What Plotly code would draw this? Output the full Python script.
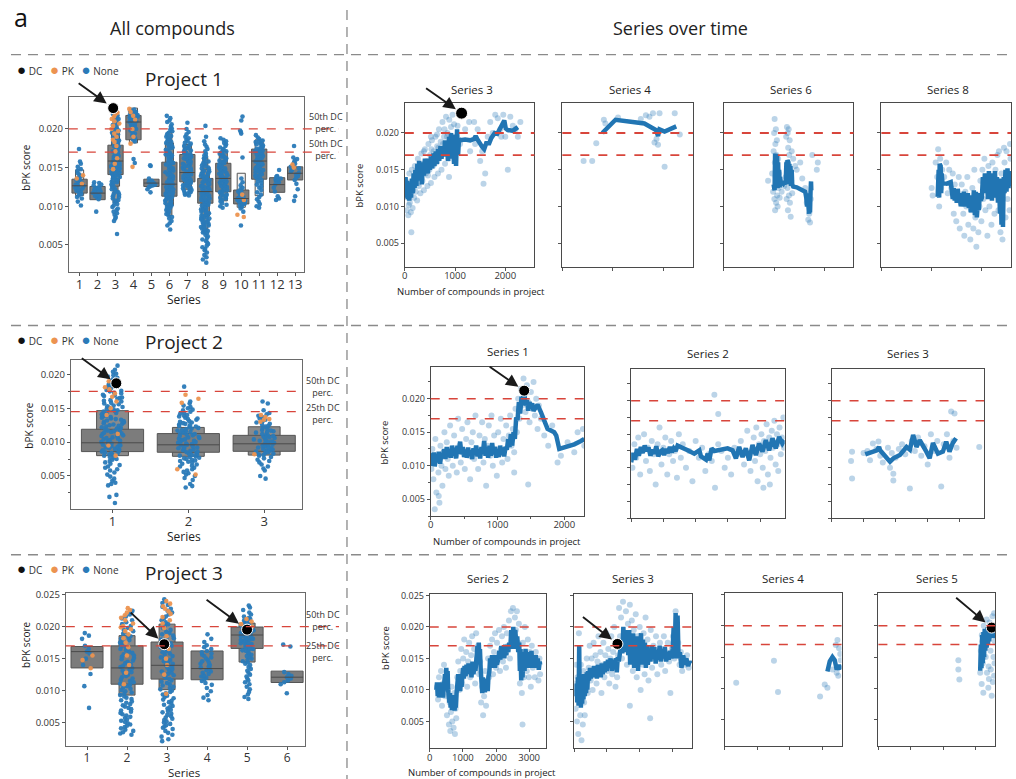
import plotly.graph_objects as go

W, H = 1016, 779
U = 1e-4  # bPK scores in the tables below are written in units of 1e-4

BLUE = "#2a7ab8"
LINE_BLUE = "#2175b3"
ORANGE = "#ec9350"
RED = "#d8453b"
FONT = "Open Sans"

# ---------------- Project 1 : all compounds ----------------
P1_SERIES = list(range(1, 14))
P1_LEVELS = {  # letter-value boxes (low, high), innermost level first
    1: [(117, 135), (114, 147)],
    2: [(108.5, 125.6)],
    3: [(141, 179), (126, 197), (105, 221)],
    4: [(186, 217.5), (182, 227)],
    5: [(125.6, 135)],
    6: [(113, 157), (101, 182), (88, 196)],
    7: [(131.6, 167), (122, 180)],
    8: [(104, 136), (87, 148), (67, 163)],
    9: [(118.8, 155.6), (107, 171)],
    10: [(103, 121), (98.7, 142.7)],
    11: [(135, 174), (113.7, 186)],
    12: [(118, 137)],
    13: [(134, 151)],
}
P1_MEDIAN = {1: 126.5, 2: 117, 3: 158.5, 4: 209, 5: 130, 6: 128.6, 7: 143.6,
             8: 119, 9: 136, 10: 110, 11: 158.5, 12: 128, 13: 142.7}
P1_HOLLOW = [1, 4, 10, 11]
P1_NONE = {
    1: [174, 158, 155, 151, 148, 146, 143, 141, 139, 137, 135, 134, 133, 132, 131, 130, 129, 128, 127,
        126, 125, 124, 123, 122, 121, 120, 119, 118, 117, 116, 114, 112, 110, 106, 101],
    2: [131, 130, 128, 127, 125, 124, 123, 122, 121, 120, 119, 118, 117, 116, 115, 114, 113, 112, 111, 109, 93],
    3: [222, 219, 217, 215, 213, 212, 210, 208, 207, 205, 203, 201, 199, 198, 196, 195, 193, 192, 190, 189,
        188, 186, 185, 183, 182, 181, 179, 178, 177, 176, 174, 173, 172, 171, 170, 168, 167, 166, 165, 164,
        163, 161, 160, 159, 158, 157, 156, 155, 154, 153, 152, 151, 150, 149, 148, 147, 146, 145, 144, 143,
        142, 141, 140, 139, 138, 137, 136, 135, 134, 133, 132, 131, 130, 128, 127, 126, 125, 123, 122, 121,
        119, 118, 116, 115, 113, 112, 110, 108, 107, 105, 103, 101, 99, 97, 95, 93, 91, 89, 86, 84, 81, 64],
    4: [225, 224, 223, 222, 221, 220, 219, 218, 217, 216, 215, 214, 213, 212, 211, 210, 209, 208, 207, 206,
        205, 204, 202, 200, 198, 196, 194, 192, 190, 188, 186, 184, 161, 156],
    5: [153, 152, 136, 133, 131, 130, 129, 128, 127, 126, 125, 122, 118],
    6: [217, 214, 211, 209, 206, 203, 201, 199, 197, 195, 193, 191, 190, 188, 186, 185, 183, 182, 180, 179,
        177, 176, 175, 173, 172, 171, 169, 168, 167, 166, 164, 163, 162, 161, 159, 158, 157, 156, 155, 154,
        152, 151, 150, 149, 148, 147, 146, 145, 144, 143, 141, 140, 139, 138, 137, 136, 135, 134, 133, 132,
        131, 130, 129, 128, 127, 126, 125, 124, 123, 122, 121, 120, 119, 118, 117, 116, 115, 114, 113, 112,
        111, 110, 109, 108, 107, 106, 105, 104, 103, 102, 101, 99, 98, 96, 95, 93, 91, 90, 88, 86, 84, 81,
        78, 75, 70],
    7: [208, 200, 196, 193, 190, 188, 186, 184, 182, 181, 179, 178, 176, 175, 174, 172, 171, 170, 169, 168,
        167, 166, 165, 164, 163, 162, 161, 160, 159, 158, 157, 156, 155, 154, 153, 152, 151, 150, 149, 148,
        147, 146, 145, 144, 143, 142, 141, 140, 139, 138, 137, 136, 135, 134, 133, 132, 131, 130, 129, 128,
        127, 126, 125, 124, 123, 122, 121, 120, 119, 118, 117, 116, 115, 114],
    8: [204, 190, 184, 180, 177, 174, 171, 168, 166, 164, 162, 160, 158, 156, 155, 153, 152, 150, 149, 148,
        146, 145, 144, 143, 142, 141, 140, 139, 138, 137, 136, 135, 134, 133, 132, 131, 130, 129, 128, 127,
        126, 125, 124, 123, 122, 121, 120, 119, 118, 117, 116, 115, 114, 113, 112, 111, 110, 109, 108, 107,
        106, 105, 104, 103, 102, 101, 100, 99, 98, 97, 96, 95, 94, 93, 92, 91, 90, 89, 88, 87, 86, 85, 84,
        83, 82, 81, 80, 79, 78, 77, 76, 75, 74, 73, 72, 71, 70, 69, 68, 67, 66, 65, 63, 61, 59, 57, 55, 53,
        51, 49, 47, 45, 43, 40, 37, 34, 31, 27],
    9: [188, 186, 184, 182, 180, 178, 176, 174, 173, 171, 170, 168, 167, 166, 164, 163, 162, 160, 159, 158,
        157, 156, 154, 153, 152, 151, 150, 149, 148, 147, 146, 145, 144, 143, 142, 141, 140, 139, 138, 137,
        136, 135, 134, 133, 132, 131, 130, 129, 128, 127, 126, 125, 124, 123, 121, 120, 119, 118, 116, 115,
        114, 112, 111, 110, 108, 106, 104, 102, 100, 98],
    10: [216, 211, 198, 196, 194, 163, 136, 131, 127, 124, 122, 120, 119, 118, 117, 116, 115, 114, 113, 112,
         111, 110, 109, 108, 107, 106, 105, 104, 103, 102, 101, 99, 97, 93, 75],
    11: [192, 189, 187, 185, 184, 183, 182, 181, 180, 179, 178, 177, 176, 175, 174, 173, 172, 171, 170, 169,
         168, 167, 166, 165, 164, 163, 162, 161, 160, 159, 158, 157, 156, 155, 154, 153, 152, 151, 150, 149,
         148, 147, 146, 145, 144, 143, 142, 141, 140, 139, 138, 137, 136, 134, 132, 130, 128, 126, 124, 121,
         118, 115, 112, 109, 106, 103, 100, 98],
    12: [147, 139, 138, 137, 136, 135, 134, 133, 131, 128, 124, 119, 113, 110, 108],
    13: [178, 163, 161, 159, 157, 155, 153, 151, 149, 147, 145, 143, 141, 139, 137, 134, 129, 122, 113, 107],
}
P1_PK = {
    1: [140, 136, 129],
    3: [224, 221, 219, 216, 213, 210, 207, 204, 200, 197, 194, 190, 186, 183, 178, 171, 162, 155, 148],
    4: [226, 222, 217, 212, 200, 190, 181, 151],
    10: [115, 108, 89, 86],
    13: [154, 150],
}
P1_DC = (2.87, 227)
P1_THRESH = [200, 170]
P1_THRESH_TEXT = ["50th DC<br>perc.", "50th DC<br>perc."]

# Project 1 : series over time (compound index, bPK score)
P1_S3_POINTS = [(20, 135), (40, 95), (55, 125), (70, 88), (90, 145), (100, 105), (115, 118), (130, 65),
                (140, 150), (155, 98), (170, 132), (185, 112), (200, 155), (215, 120), (230, 140), (245, 108),
                (260, 165), (280, 128), (295, 150), (310, 118), (330, 172), (350, 135), (365, 158), (380, 122),
                (400, 178), (420, 145), (435, 162), (450, 128), (470, 185), (490, 150), (505, 170), (520, 132),
                (540, 190), (560, 155), (575, 175), (590, 140), (610, 195), (630, 160), (645, 182), (660, 145),
                (680, 205), (700, 168), (715, 188), (730, 150), (750, 215), (765, 175), (780, 195), (800, 158),
                (820, 222), (835, 180), (850, 200), (870, 165), (885, 218), (900, 185), (920, 208), (935, 170),
                (950, 225), (965, 190), (980, 212), (995, 172), (60, 112), (120, 92), (250, 150), (380, 175),
                (520, 195), (640, 198), (760, 185), (880, 140), (1050, 210), (1100, 185), (1150, 225),
                (1200, 205), (1280, 215), (1300, 175), (1380, 215), (1400, 185), (1450, 205), (1500, 162),
                (1540, 175), (1567, 131), (1600, 145), (1650, 195), (1700, 215), (1750, 200), (1800, 225),
                (1850, 220), (1900, 205), (1920, 195), (1960, 225), (2000, 195), (2050, 150), (2100, 222),
                (2150, 210), (2200, 205), (2250, 195), (2300, 215), (30, 118), (80, 102), (160, 122),
                (190, 140), (270, 132), (320, 148), (410, 160), (460, 142), (530, 178), (600, 165),
                (670, 180), (720, 172), (790, 205), (840, 195), (910, 192), (960, 180)]
P1_S3_LINE = [(0, 125), (15, 140), (30, 112), (45, 135), (60, 110), (75, 128), (90, 108), (110, 132),
              (125, 112), (140, 138), (160, 118), (175, 145), (195, 125), (210, 150), (230, 128), (250, 158),
              (265, 135), (285, 162), (300, 140), (320, 155), (340, 130), (360, 160), (380, 142), (400, 165),
              (420, 148), (440, 158), (460, 145), (480, 165), (500, 150), (520, 168), (545, 152), (570, 172),
              (590, 155), (615, 175), (640, 158), (660, 178), (685, 162), (710, 182), (730, 165), (755, 180),
              (780, 168), (800, 190), (820, 170), (840, 185), (860, 162), (880, 195), (900, 175), (920, 200),
              (940, 165), (960, 188), (980, 158), (1000, 198), (1020, 155), (1040, 205), (1060, 170),
              (1080, 192), (1100, 190), (1200, 191), (1300, 190), (1380, 192), (1410, 196), (1440, 192),
              (1470, 188), (1540, 181), (1580, 178), (1620, 186), (1680, 186), (1720, 193), (1790, 200),
              (1840, 199), (1880, 204), (1950, 212), (1980, 217), (2010, 206), (2050, 204), (2150, 203),
              (2250, 208)]
P1_S3_DC = (1130, 227)
P1_S4_POINTS = [(420, 162), (590, 162), (670, 186), (820, 218), (850, 213), (1650, 224), (1720, 222),
                (1790, 227), (1920, 227), (2220, 227), (1820, 187), (1890, 184), (2020, 154), (2320, 198),
                (1100, 221), (1550, 219), (1860, 192)]
P1_S4_LINE = [(790, 200), (1050, 218), (1620, 213), (1850, 204), (1890, 196), (1920, 205), (2020, 202),
              (2250, 209)]
P1_S6_POINTS = [(880, 135), (960, 145), (980, 120), (990, 175), (1000, 200), (1005, 110), (1010, 219),
                (1015, 160), (1020, 95), (1025, 185), (1030, 140), (1035, 205), (1040, 105), (1045, 170),
                (1050, 130), (1055, 190), (1060, 115), (1065, 150), (1070, 100), (1080, 165), (1090, 125),
                (1100, 145), (1110, 112), (1120, 135), (1150, 120), (1200, 128), (1230, 140), (1240, 195),
                (1250, 110), (1255, 208), (1260, 160), (1265, 125), (1270, 200), (1275, 95), (1280, 180),
                (1285, 140), (1290, 205), (1295, 115), (1300, 170), (1310, 190), (1315, 105), (1320, 150),
                (1330, 86), (1340, 135), (1350, 175), (1360, 118), (1380, 165), (1420, 155), (1450, 150),
                (1520, 160), (1560, 138), (1620, 125), (1650, 105), (1680, 82), (1700, 90), (1715, 78),
                (1730, 110), (1760, 170), (1850, 150), (1870, 160)]
P1_S6_LINE = [(990, 130), (1000, 165), (1010, 122), (1020, 172), (1030, 125), (1040, 170), (1050, 128),
              (1060, 168), (1070, 125), (1080, 160), (1090, 128), (1100, 150), (1110, 126), (1120, 140),
              (1130, 132), (1150, 133), (1180, 131), (1200, 134), (1230, 130), (1245, 160), (1255, 132),
              (1265, 163), (1275, 135), (1285, 160), (1295, 133), (1305, 158), (1315, 130), (1325, 155),
              (1335, 128), (1350, 150), (1360, 130), (1380, 127), (1450, 126), (1520, 124), (1580, 121),
              (1620, 120), (1640, 112), (1655, 100), (1665, 118), (1675, 95), (1685, 115), (1695, 90),
              (1705, 113), (1715, 92), (1725, 120), (1735, 134), (1740, 122)]
P1_S8_POINTS = [(1000, 125), (1020, 115), (1080, 160), (1110, 140), (1130, 178), (1150, 100), (1170, 165),
                (1190, 125), (1210, 150), (1250, 140), (1290, 160), (1320, 118), (1350, 150), (1390, 125),
                (1420, 145), (1440, 90), (1460, 130), (1490, 80), (1510, 115), (1540, 140), (1560, 70),
                (1580, 105), (1600, 130), (1630, 90), (1650, 60), (1670, 120), (1690, 100), (1710, 140),
                (1730, 75), (1750, 110), (1770, 55), (1790, 95), (1810, 125), (1830, 70), (1850, 150),
                (1870, 85), (1890, 45), (1910, 115), (1930, 65), (1950, 100), (1970, 135), (1990, 80),
                (2010, 150), (2030, 110), (2050, 165), (2070, 95), (2090, 130), (2110, 60), (2130, 155),
                (2150, 100), (2170, 140), (2190, 75), (2210, 160), (2230, 120), (2250, 90), (2270, 150),
                (2290, 115), (2310, 170), (2330, 95), (2350, 130), (2370, 65), (2390, 145), (2410, 55),
                (2430, 120), (2450, 160), (2470, 85), (2490, 175), (2510, 110), (2530, 140), (2550, 95),
                (2570, 165), (2560, 185), (2440, 180), (2340, 175)]
P1_S8_LINE = [(1120, 113), (1140, 150), (1150, 112), (1160, 158), (1170, 115), (1180, 155), (1190, 118),
              (1200, 145), (1215, 132), (1300, 131), (1380, 133), (1400, 122), (1420, 110), (1440, 125),
              (1460, 108), (1480, 120), (1500, 105), (1520, 124), (1540, 110), (1560, 118), (1580, 100),
              (1600, 115), (1620, 103), (1640, 120), (1660, 100), (1680, 112), (1700, 105), (1720, 118),
              (1740, 98), (1760, 110), (1780, 92), (1800, 115), (1820, 95), (1840, 122), (1860, 88),
              (1880, 120), (1900, 85), (1920, 105), (1940, 95), (1960, 118), (1980, 108), (2000, 112),
              (2020, 140), (2040, 118), (2060, 145), (2080, 125), (2100, 140), (2120, 110), (2140, 148),
              (2160, 120), (2180, 145), (2200, 108), (2220, 142), (2240, 115), (2260, 148), (2280, 112),
              (2300, 140), (2320, 105), (2340, 138), (2360, 90), (2375, 138), (2390, 75), (2405, 130),
              (2420, 72), (2435, 140), (2450, 118), (2470, 150), (2490, 120), (2510, 152), (2530, 125),
              (2550, 148), (2570, 128), (2580, 140)]

# ---------------- Project 2 ----------------
P2_SERIES = [1, 2, 3]
P2_LEVELS = {1: [(86, 119), (80, 146.5)], 2: [(85, 112.6), (79, 121.7)], 3: [(86.4, 110), (80.8, 122.7)]}
P2_MEDIAN = {1: 99, 2: 96, 3: 97.5}
P2_NONE = {
    1: [213, 207, 204, 201, 199, 197, 195, 193, 191, 190, 188, 186, 185, 183, 182, 180, 179, 177, 176, 175,
        173, 172, 170, 169, 168, 166, 165, 164, 162, 161, 160, 158, 157, 156, 154, 153, 152, 151, 149, 148,
        147, 146, 145, 143, 142, 141, 140, 139, 138, 137, 136, 135, 134, 133, 132, 131, 130, 129, 128, 127,
        126, 125, 124, 123, 122, 121, 120, 119, 118, 117, 116, 115, 114, 113, 112, 111, 110, 109, 108, 107,
        106, 105, 104, 103, 102, 101, 100, 99, 98, 97, 96, 95, 94, 93, 92, 91, 90, 89, 88, 87, 86, 85, 84,
        83, 82, 81, 80, 78, 77, 75, 74, 72, 70, 68, 66, 64, 62, 60, 58, 55, 52, 49, 46, 43, 40, 38, 36, 22,
        19, 10],
    2: [182, 160, 157, 154, 152, 150, 148, 147, 145, 143, 142, 140, 139, 138, 136, 135, 134, 133, 131, 130,
        129, 128, 127, 126, 125, 124, 123, 122, 121, 120, 119, 118, 117, 116, 115, 114, 113, 112, 111, 110,
        109, 108, 107, 106, 105, 104, 103, 102, 101, 100, 99, 98, 97, 96, 95, 94, 93, 92, 91, 90, 89, 88, 87,
        86, 85, 84, 83, 82, 81, 80, 79, 78, 77, 76, 75, 74, 73, 72, 71, 70, 68, 67, 65, 64, 62, 60, 58, 56,
        54, 52, 50, 47, 44, 38, 35, 33],
    3: [160, 157, 147, 143, 141, 139, 137, 135, 133, 131, 129, 127, 126, 124, 123, 121, 120, 118, 117, 116,
        115, 114, 112, 111, 110, 109, 108, 107, 106, 105, 104, 103, 102, 101, 100, 99, 98, 97, 96, 95, 94,
        93, 92, 91, 90, 89, 88, 87, 86, 85, 84, 83, 82, 81, 80, 78, 76, 74, 72, 70, 67, 64, 61, 58, 50, 46],
}
P2_PK = {1: [190, 185, 181, 178, 172, 167, 160, 150, 140, 112, 95, 80],
         2: [170, 164, 158, 60, 52],
         3: [140, 137, 134, 133, 130, 82]}
P2_DC = (1.05, 187)
P2_THRESH = [175, 145]
P2_THRESH_TEXT = ["50th DC<br>perc.", "25th DC<br>perc."]

P2_S1_POINTS = [(10, 95), (25, 125), (40, 80), (55, 110), (70, 140), (85, 60), (100, 115), (115, 90),
                (130, 45), (145, 130), (160, 100), (175, 70), (190, 120), (205, 150), (220, 95), (240, 135),
                (255, 110), (270, 85), (290, 160), (310, 125), (330, 100), (350, 145), (370, 115), (390, 90),
                (410, 170), (430, 130), (450, 105), (470, 155), (490, 120), (510, 95), (530, 140), (550, 165),
                (570, 115), (590, 80), (610, 135), (630, 150), (650, 110), (670, 175), (690, 125), (710, 95),
                (730, 145), (750, 120), (770, 165), (790, 105), (810, 140), (830, 70), (850, 130), (870, 160),
                (890, 115), (910, 175), (930, 100), (950, 145), (970, 125), (990, 85), (1010, 150),
                (1030, 120), (1050, 170), (1070, 105), (1090, 140), (1110, 125), (1130, 160), (1150, 110),
                (1170, 145), (1190, 175), (1210, 130), (1230, 155), (1250, 120), (1270, 185), (1290, 150),
                (1310, 200), (1330, 170), (1350, 215), (1370, 190), (1390, 230), (1400, 205), (1420, 180),
                (1440, 220), (1460, 195), (1480, 165), (1500, 210), (1520, 185), (1540, 225), (1560, 175),
                (1580, 200), (1600, 155), (1620, 190), (1460, 72), (1650, 170), (1700, 145), (1760, 130),
                (1820, 160), (1900, 105), (1950, 115), (2050, 135), (2150, 120), (2200, 150), (2280, 155),
                (2300, 130), (60, 35), (120, 55), (1250, 90)]
P2_S1_LINE = [(0, 108), (15, 118), (30, 100), (45, 120), (60, 99), (80, 116), (100, 105), (120, 121),
              (140, 103), (160, 118), (180, 112), (200, 125), (220, 110), (240, 128), (260, 113), (280, 125),
              (300, 112), (320, 130), (340, 115), (360, 127), (380, 111), (400, 130), (420, 118), (440, 136),
              (460, 117), (480, 128), (500, 113), (520, 124), (540, 112), (560, 127), (580, 115), (600, 123),
              (620, 110), (640, 126), (660, 116), (680, 130), (700, 114), (720, 125), (740, 111), (760, 128),
              (780, 118), (800, 137), (820, 115), (840, 126), (860, 112), (880, 130), (900, 115), (920, 134),
              (940, 117), (960, 128), (980, 112), (1000, 125), (1020, 113), (1040, 130), (1060, 116),
              (1080, 127), (1100, 114), (1120, 128), (1140, 124), (1160, 140), (1180, 128), (1200, 147),
              (1220, 130), (1240, 150), (1260, 140), (1280, 172), (1300, 168), (1320, 195), (1340, 178),
              (1360, 203), (1380, 200), (1400, 211), (1420, 190), (1440, 198), (1460, 182), (1480, 195),
              (1500, 188), (1520, 193), (1540, 182), (1560, 186), (1600, 191), (1650, 180), (1700, 165),
              (1750, 155), (1850, 150), (1880, 145), (1925, 125), (2050, 128), (2150, 132), (2250, 137),
              (2300, 140)]
P2_S1_DC = (1400, 212)
P2_S2_POINTS = [(20, 100), (50, 135), (80, 115), (110, 145), (140, 90), (170, 125), (200, 150), (230, 110),
                (260, 130), (290, 95), (320, 140), (350, 120), (380, 75), (410, 135), (440, 160), (470, 105),
                (500, 130), (530, 145), (560, 90), (590, 120), (620, 140), (650, 110), (680, 125), (710, 85),
                (740, 150), (770, 115), (800, 135), (850, 100), (900, 125), (950, 80), (1000, 140),
                (1050, 115), (1100, 130), (1150, 95), (1200, 120), (1250, 110), (1300, 70), (1350, 135),
                (1400, 125), (1450, 100), (1500, 115), (1550, 90), (1600, 130), (1650, 120), (1700, 140),
                (1750, 105), (1800, 155), (1850, 95), (1900, 145), (1920, 110), (1940, 160), (1960, 80),
                (1980, 135), (2000, 120), (2020, 150), (2040, 100), (2060, 140), (2080, 125), (2100, 165),
                (2120, 90), (2140, 145), (2160, 115), (2180, 155), (2200, 130), (2220, 170), (2240, 105),
                (2260, 150), (2280, 135), (2300, 160), (2320, 120), (2340, 145), (2360, 175), (2370, 130),
                (1350, 180), (2050, 70), (2150, 75), (2280, 95), (1290, 209)]
P2_S2_LINE = [(0, 108), (30, 122), (60, 112), (90, 128), (120, 118), (150, 131), (180, 122), (210, 133),
              (240, 125), (270, 130), (300, 118), (330, 127), (360, 121), (390, 132), (420, 117), (450, 124),
              (480, 126), (510, 119), (540, 128), (570, 122), (600, 131), (630, 123), (660, 129), (690, 125),
              (720, 133), (773, 131), (876, 126), (979, 121), (1057, 126), (1082, 117), (1160, 112),
              (1186, 121), (1211, 111), (1247, 129), (1289, 125), (1495, 129), (1572, 126), (1624, 114),
              (1675, 131), (1727, 116), (1778, 129), (1830, 111), (1881, 134), (1933, 119), (1985, 136),
              (2036, 124), (2088, 141), (2139, 126), (2191, 144), (2242, 129), (2294, 146), (2345, 136),
              (2380, 141)]
P2_S3_POINTS = [(304, 110), (320, 124), (320, 84), (500, 122), (560, 125), (600, 111), (645, 136), (700, 128),
                (732, 139), (760, 118), (800, 108), (880, 130), (912, 100), (940, 122), (964, 91), (964, 81),
                (1000, 115), (1050, 128), (1100, 135), (1150, 120), (1222, 69), (1250, 140), (1300, 125),
                (1350, 145), (1400, 118), (1450, 132), (1500, 105), (1550, 150), (1600, 125), (1650, 140),
                (1711, 72), (1750, 135), (1800, 150), (1840, 115), (1866, 184), (1918, 181), (1900, 140),
                (1950, 130), (2304, 131)]
P2_S3_LINE = [(526, 120), (706, 126), (742, 131), (758, 126), (912, 109), (964, 114), (1067, 119),
              (1170, 131), (1222, 127), (1273, 149), (1325, 131), (1376, 141), (1479, 124), (1531, 114),
              (1582, 137), (1660, 121), (1737, 124), (1789, 139), (1840, 124), (1892, 137), (1943, 144)]

# ---------------- Project 3 ----------------
P3_SERIES = [1, 2, 3, 4, 5, 6]
P3_LEVELS = {1: [(135.5, 169)], 2: [(110, 170), (93, 186)], 3: [(118, 176), (101.5, 204)],
             4: [(117, 162)], 5: [(166, 199.5), (144.7, 205.6)], 6: [(112.7, 130.5)]}
P3_MEDIAN = {1: 161, 2: 135.5, 3: 139.6, 4: 134.5, 5: 187, 6: 121}
P3_NONE = {
    1: [190, 186, 181, 170, 165, 161, 158, 150, 140, 126, 107, 73],
    2: [225, 222, 219, 216, 213, 210, 207, 204, 201, 198, 195, 193, 191, 189, 187, 185, 183, 181, 179, 177,
        175, 173, 171, 169, 167, 165, 163, 161, 159, 157, 155, 153, 151, 149, 147, 145, 143, 141, 139, 137,
        135, 133, 131, 129, 127, 125, 123, 121, 119, 117, 115, 113, 111, 109, 107, 105, 103, 101, 99, 97,
        95, 93, 91, 89, 87, 85, 83, 81, 79, 77, 75, 73, 71, 69, 67, 65, 63, 61, 59, 57, 55, 53, 51, 49, 47,
        45, 43, 41, 39, 37, 35, 33, 31],
    3: [243, 240, 237, 234, 231, 228, 225, 222, 219, 216, 213, 210, 207, 204, 201, 198, 195, 192, 190, 188,
        186, 184, 182, 180, 178, 176, 174, 172, 170, 168, 166, 164, 162, 160, 158, 156, 154, 152, 150, 148,
        146, 144, 142, 140, 138, 136, 134, 132, 130, 128, 126, 124, 122, 120, 118, 116, 114, 112, 110, 108,
        106, 104, 102, 100, 98, 96, 94, 92, 90, 88, 86, 84, 82, 80, 78, 76, 74, 72, 70, 68, 66, 64, 62, 60,
        58, 56, 54, 52, 50, 48, 46, 44, 42, 40, 37, 34, 31, 28, 24, 21],
    4: [188, 181, 176, 171, 168, 165, 162, 160, 158, 156, 154, 152, 150, 148, 146, 144, 142, 140, 138, 136,
        134, 132, 130, 128, 126, 124, 122, 120, 118, 115, 112, 109, 104, 99, 93, 89, 85],
    5: [233, 230, 226, 222, 219, 216, 214, 212, 210, 208, 206, 204, 202, 201, 200, 199, 198, 197, 196, 195,
        194, 193, 192, 191, 190, 189, 188, 187, 186, 185, 184, 183, 182, 181, 180, 179, 178, 177, 176, 175,
        174, 173, 172, 171, 170, 169, 168, 167, 166, 165, 164, 163, 162, 160, 158, 156, 154, 152, 150, 148,
        146, 144, 142, 140, 137, 134, 131, 128, 125, 122, 119, 116, 113, 110, 106, 102, 98, 94, 90, 87],
    6: [172, 169, 129, 126, 123, 121, 119, 116, 113, 110, 96],
}
P3_PK = {1: [155, 148, 135],
         2: [229, 226, 222, 218, 214, 210, 205, 201, 199, 196, 193, 188, 182, 175, 168, 155, 140, 128, 110],
         3: [240, 236, 232, 228, 224, 220, 215, 210, 205, 198, 185, 165, 150, 140, 125, 95],
         5: [212, 208, 204, 200]}
P3_DC = [(2.93, 172.6), (5.0, 195.4)]
P3_THRESH = [200, 170]
P3_THRESH_TEXT = ["50th DC<br>perc.", "25th DC<br>perc."]

P3_S2_POINTS = [(220, 105), (250, 85), (280, 120), (310, 95), (340, 130), (370, 75), (400, 110), (430, 140),
                (460, 90), (490, 115), (520, 60), (550, 100), (580, 45), (600, 80), (620, 35), (640, 65),
                (660, 105), (680, 50), (700, 75), (720, 40), (740, 95), (760, 30), (780, 70), (800, 55),
                (830, 120), (860, 145), (890, 100), (920, 130), (950, 165), (980, 110), (1010, 150),
                (1040, 180), (1070, 125), (1100, 160), (1130, 105), (1160, 145), (1190, 175), (1220, 120),
                (1250, 155), (1280, 185), (1310, 130), (1340, 165), (1370, 110), (1400, 190), (1430, 150),
                (1460, 170), (1490, 125), (1520, 145), (1550, 80), (1580, 105), (1610, 60), (1640, 90),
                (1670, 130), (1700, 75), (1730, 110), (1760, 150), (1790, 120), (1820, 170), (1850, 140),
                (1880, 180), (1910, 125), (1940, 160), (1970, 190), (2000, 135), (2030, 175), (2060, 150),
                (2090, 195), (2120, 130), (2150, 165), (2180, 185), (2210, 145), (2240, 200), (2270, 160),
                (2300, 135), (2330, 190), (2360, 170), (2390, 210), (2420, 150), (2450, 225), (2480, 185),
                (2510, 230), (2540, 170), (2570, 215), (2600, 195), (2630, 225), (2660, 175), (2690, 205),
                (2720, 110), (2750, 140), (2780, 95), (2810, 175), (2840, 120), (2870, 200), (2900, 150),
                (2930, 130), (2960, 180), (2990, 120), (3020, 160), (3050, 105), (3080, 170), (3110, 135),
                (3140, 150), (3170, 120), (3200, 160), (3240, 140), (3280, 115), (3310, 150), (3330, 125),
                (2800, 45)]
P3_S2_LINE = [(200, 100), (220, 112), (240, 90), (260, 110), (280, 88), (300, 105), (320, 92), (340, 112),
              (360, 95), (380, 108), (400, 88), (420, 110), (440, 96), (460, 125), (480, 108), (500, 135),
              (520, 112), (540, 130), (555, 100), (570, 90), (590, 80), (610, 95), (630, 72), (650, 90),
              (670, 68), (690, 88), (710, 70), (730, 92), (750, 67), (770, 85), (790, 72), (810, 95),
              (840, 110), (860, 125), (880, 100), (900, 120), (920, 98), (940, 115), (960, 105), (990, 125),
              (1010, 135), (1030, 118), (1050, 138), (1080, 122), (1110, 140), (1140, 128), (1170, 142),
              (1200, 125), (1230, 138), (1260, 120), (1290, 145), (1320, 125), (1350, 140), (1380, 130),
              (1410, 150), (1440, 170), (1460, 145), (1480, 175), (1500, 150), (1515, 165), (1540, 130),
              (1565, 110), (1585, 95), (1605, 120), (1625, 98), (1645, 115), (1665, 96), (1690, 118),
              (1710, 100), (1730, 115), (1750, 98), (1770, 120), (1800, 130), (1820, 150), (1850, 135),
              (1880, 155), (1910, 140), (1940, 150), (1970, 135), (2000, 155), (2030, 140), (2070, 150),
              (2100, 162), (2130, 148), (2160, 170), (2190, 155), (2220, 168), (2250, 150), (2280, 172),
              (2310, 155), (2340, 170), (2370, 160), (2400, 175), (2430, 165), (2460, 195), (2490, 170),
              (2520, 200), (2550, 165), (2580, 195), (2610, 175), (2640, 185), (2670, 160), (2700, 175),
              (2720, 130), (2740, 165), (2760, 115), (2780, 150), (2800, 120), (2830, 160), (2860, 130),
              (2890, 165), (2920, 145), (2950, 160), (2980, 135), (3010, 158), (3040, 140), (3070, 162),
              (3100, 135), (3130, 155), (3160, 140), (3200, 155), (3230, 135), (3260, 150), (3290, 132),
              (3320, 145), (3330, 140)]
P3_S3_POINTS = [(20, 110), (40, 70), (60, 140), (80, 50), (100, 120), (120, 30), (140, 190), (160, 95),
                (180, 60), (200, 140), (220, 20), (240, 100), (260, 45), (280, 130), (300, 80), (320, 60),
                (350, 110), (380, 150), (410, 95), (440, 135), (470, 170), (500, 115), (530, 150), (560, 100),
                (590, 175), (620, 130), (650, 155), (680, 110), (710, 145), (740, 185), (770, 125), (800, 160),
                (830, 95), (860, 140), (890, 175), (920, 120), (950, 155), (980, 190), (1010, 130),
                (1040, 165), (1070, 110), (1100, 150), (1130, 185), (1160, 125), (1190, 160), (1220, 200),
                (1250, 140), (1280, 175), (1310, 120), (1340, 155), (1370, 230), (1400, 185), (1430, 215),
                (1460, 150), (1490, 240), (1520, 190), (1550, 170), (1580, 225), (1610, 140), (1640, 205),
                (1670, 180), (1700, 235), (1730, 155), (1760, 210), (1790, 130), (1820, 195), (1850, 165),
                (1880, 220), (1910, 120), (1940, 185), (1970, 150), (2000, 200), (2030, 100), (2060, 175),
                (2090, 140), (2120, 190), (2150, 125), (2180, 215), (2210, 160), (2240, 180), (2270, 115),
                (2300, 165), (2340, 195), (2380, 135), (2420, 170), (2460, 150), (2500, 185), (2540, 125),
                (2580, 160), (2620, 175), (2660, 140), (2700, 165), (2740, 185), (2780, 130), (2820, 155),
                (2860, 175), (2900, 145), (2940, 95), (2980, 165), (3020, 185), (3060, 150), (3100, 225),
                (3140, 200), (3180, 175), (3220, 140), (3260, 160), (3300, 130), (3350, 150), (3400, 140),
                (3450, 155), (3500, 135), (2320, 55), (1700, 75), (1260, 105)]
P3_S3_LINE = [(50, 90), (70, 110), (90, 80), (110, 120), (130, 75), (150, 170), (165, 90), (180, 125),
              (200, 72), (220, 115), (240, 78), (260, 118), (280, 85), (300, 125), (320, 90), (340, 120),
              (360, 95), (380, 128), (400, 100), (420, 130), (450, 115), (480, 135), (510, 118), (540, 132),
              (570, 120), (600, 138), (630, 122), (660, 135), (690, 118), (720, 140), (750, 125), (780, 138),
              (810, 120), (840, 142), (870, 125), (900, 140), (930, 128), (960, 145), (990, 130), (1030, 148),
              (1070, 135), (1110, 150), (1150, 130), (1190, 148), (1230, 135), (1270, 150), (1300, 128),
              (1330, 152), (1360, 145), (1400, 160), (1440, 180), (1470, 158), (1500, 200), (1530, 165),
              (1560, 195), (1590, 160), (1620, 190), (1650, 155), (1680, 195), (1710, 140), (1740, 185),
              (1770, 150), (1800, 190), (1830, 135), (1860, 180), (1890, 140), (1920, 185), (1950, 130),
              (1980, 175), (2010, 145), (2040, 190), (2070, 140), (2100, 180), (2130, 145), (2160, 175),
              (2190, 135), (2220, 170), (2250, 140), (2290, 165), (2330, 145), (2370, 170), (2410, 150),
              (2450, 168), (2490, 142), (2530, 162), (2570, 148), (2610, 170), (2650, 145), (2690, 165),
              (2730, 150), (2770, 168), (2810, 145), (2850, 160), (2890, 148), (2930, 162), (2970, 150),
              (3010, 165), (3040, 200), (3070, 150), (3100, 222), (3130, 160), (3160, 218), (3190, 150),
              (3230, 160), (3280, 135), (3330, 155), (3380, 140), (3430, 150), (3480, 138), (3530, 145),
              (3560, 142)]
P3_S3_DC = (1320, 173)
P3_S4_POINTS = [(350, 109), (1515, 144), (1640, 94), (2938, 87), (3082, 106), (3165, 101), (3474, 177),
                (3423, 169), (3525, 164), (3577, 145), (3320, 130), (3560, 155), (3500, 120), (3450, 125)]
P3_S4_LINE = [(3165, 127), (3237, 143), (3320, 150), (3390, 145), (3450, 130), (3525, 137), (3590, 130)]
P3_S5_POINTS = [(2474, 145), (2474, 130), (2505, 114), (3196, 107), (3247, 93), (3402, 101), (3505, 88),
                (3150, 125), (3170, 160), (3200, 185), (3230, 140), (3260, 200), (3290, 170), (3320, 150),
                (3350, 210), (3380, 180), (3410, 135), (3440, 205), (3470, 160), (3500, 190), (3530, 215),
                (3560, 150), (3590, 200), (3600, 175), (3580, 120), (3540, 110), (3480, 130), (3420, 115),
                (3360, 125), (3310, 190), (3250, 150), (3220, 175), (3580, 220), (3595, 140)]
P3_S5_LINE = [(3150, 128), (3170, 170), (3190, 132), (3210, 185), (3230, 140), (3250, 190), (3270, 150),
              (3290, 195), (3310, 160), (3330, 192), (3350, 165), (3370, 198), (3390, 170), (3410, 195),
              (3430, 175), (3450, 198), (3470, 180), (3490, 199), (3510, 185), (3530, 198), (3550, 180),
              (3570, 200), (3590, 185), (3600, 195)]
P3_S5_DC = (3505, 197)

TS_THRESH = [200, 170]

# ---------------------------------------------------------------------------
layout = dict(width=W, height=H, margin=dict(l=0, r=0, t=0, b=0), paper_bgcolor="white",
              plot_bgcolor="white", showlegend=False, barmode="overlay", boxmode="overlay",
              font=dict(family=FONT, color="#2a2a2a"))
traces, shapes, annotations = [], [], []
AX_COUNT = [0]


def new_axes(box, xr, yr, xkw, ykw, frame="#4a4a4a"):
    AX_COUNT[0] += 1
    i = AX_COUNT[0]
    sx = "" if i == 1 else str(i)
    x0, y0, x1, y1 = box
    common = dict(showline=True, mirror=True, linecolor=frame, linewidth=1, ticks="outside", ticklen=3,
                  tickcolor="#555", showgrid=False, zeroline=False, tickfont=dict(size=9, color="#333"))
    xa = {**common, **xkw}
    xa.update(domain=[x0 / W, x1 / W], range=xr, anchor="y" + sx)
    ya = {**common, **ykw}
    ya.update(domain=[1 - y1 / H, 1 - y0 / H], range=yr, anchor="x" + sx)
    layout["xaxis" + sx] = xa
    layout["yaxis" + sx] = ya
    return "x" + sx, "y" + sx


def px_text(x, y, s, size, xanchor="center", angle=0, color="#222"):
    annotations.append(dict(x=x / W, y=1 - y / H, xref="paper", yref="paper", text=s, showarrow=False,
                            font=dict(family=FONT, size=size, color=color), xanchor=xanchor,
                            yanchor="middle", textangle=angle))


def arrow(xr, yr, x, y, ax, ay, standoff):
    annotations.append(dict(x=x, y=y * U, xref=xr, yref=yr, ax=ax, ay=ay, text="", showarrow=True,
                            arrowhead=2, arrowsize=1.3, arrowwidth=1.9, arrowcolor="#1a1a1a",
                            standoff=standoff))


def thresholds(yr, values, px0, px1, width=1.4):
    for t in values:
        shapes.append(dict(type="line", xref="paper", yref=yr, x0=px0 / W, x1=px1 / W, y0=t * U, y1=t * U,
                           line=dict(color=RED, width=width, dash="dash"), layer="above"))


def boxen(xr, yr, series, levels, medians, widths, hollow=()):
    depth = max(len(v) for v in levels.values())
    fills = ["#7c7c7c", "#8b8b8b", "#979797"]
    for k in reversed(range(depth)):
        cats = [s for s in series if len(levels[s]) > k]
        lo = [levels[s][k][0] * U for s in cats]
        hi = [(levels[s][k][1] - levels[s][k][0]) * U for s in cats]
        colors = ["#f4f4f4" if (k > 0 and s in hollow) else fills[k] for s in cats]
        traces.append(go.Bar(x=cats, y=hi, base=lo, width=widths[k], xaxis=xr, yaxis=yr,
                             marker=dict(color=colors, line=dict(color="#555555", width=1)),
                             hoverinfo="skip"))
    mx, my = [], []
    for s in series:
        mx += [s - widths[0] / 2, s + widths[0] / 2, None]
        my += [medians[s] * U, medians[s] * U, None]
    traces.append(go.Scatter(x=mx, y=my, mode="lines", line=dict(color="#4a4a4a", width=1),
                             xaxis=xr, yaxis=yr, hoverinfo="skip"))


def strip(xr, yr, groups, color, width, size):
    xs, ys = [], []
    for s, vals in groups.items():
        xs += [s] * len(vals)
        ys += [v * U for v in vals]
    traces.append(go.Box(x=xs, y=ys, boxpoints="all", jitter=1, pointpos=0, width=width,
                         fillcolor="rgba(0,0,0,0)", line=dict(color="rgba(0,0,0,0)", width=0),
                         whiskerwidth=0, marker=dict(color=color, size=size, opacity=0.95),
                         xaxis=xr, yaxis=yr, hoverinfo="skip"))


def dc_dot(xr, yr, pts, size=11):
    traces.append(go.Scatter(x=[p[0] for p in pts], y=[p[1] * U for p in pts], mode="markers",
                             marker=dict(color="black", size=size, line=dict(color="white", width=1)),
                             xaxis=xr, yaxis=yr, hoverinfo="skip"))


def ts(xr, yr, points, line):
    traces.append(go.Scatter(x=[p[0] for p in points], y=[p[1] * U for p in points], mode="markers",
                             marker=dict(color=BLUE, size=6, opacity=0.32), xaxis=xr, yaxis=yr,
                             hoverinfo="skip"))
    traces.append(go.Scatter(x=[p[0] for p in line], y=[p[1] * U for p in line], mode="lines",
                             line=dict(color=LINE_BLUE, width=4.5), xaxis=xr, yaxis=yr, hoverinfo="skip"))


def legend_row(y):
    dot = '<span style="color:{};font-size:15px">●</span>'
    s = (dot.format("#111") + " DC   " + dot.format(ORANGE) + " PK   " + dot.format(BLUE) + " None")
    px_text(12, y, s, 10, xanchor="left", color="#333")


def y_ticks(labels=True, dtick=0.005, minor=None, size=9):
    d = dict(dtick=dtick, tick0=0, tickformat=".3f", showticklabels=labels,
             tickfont=dict(size=size, color="#333"))
    if minor:
        d["minor"] = dict(dtick=minor, ticks="outside", ticklen=2, tickcolor="#555")
    return d


def x_ticks(labels=True, dtick=1000, minor=None, size=9.5):
    d = dict(dtick=dtick, tick0=0, showticklabels=labels, tickfont=dict(size=size, color="#333"),
             ticklabelstandoff=-3)
    if minor:
        d["minor"] = dict(dtick=minor, ticks="outside", ticklen=2, tickcolor="#555")
    return d


def cat_ticks(series, size=13):
    return dict(tickvals=series, tickfont=dict(size=size, color="#333"), ticklabelstandoff=-3)


# ---------------- headings and dividers ----------------
px_text(9, 11, "a", 25, xanchor="left", color="#111")
px_text(170, 22, "All compounds", 18)
px_text(680, 22, "Series over time", 18)
for yy in (49, 322, 553):
    shapes.append(dict(type="line", xref="paper", yref="paper", x0=8 / W, x1=1012 / W, y0=1 - yy / H,
                       y1=1 - yy / H, line=dict(color="#8a8a8a", width=1.3, dash="10px,7px")))
shapes.append(dict(type="line", xref="paper", yref="paper", x0=345 / W, x1=345 / W, y0=1 - 4 / H, y1=0,
                   line=dict(color="#8a8a8a", width=1.3, dash="10px,7px")))

# ---------------- Project 1 ----------------
xr, yr = new_axes((66, 92, 302, 268), [0.4, 13.5], [0.0015, 0.0241],
                  cat_ticks(P1_SERIES), y_ticks(size=9.5), frame="#6a6a6a")
boxen(xr, yr, P1_SERIES, P1_LEVELS, P1_MEDIAN, [0.85, 0.45, 0.28], P1_HOLLOW)
strip(xr, yr, P1_NONE, BLUE, 0.5, 4.6)
strip(xr, yr, P1_PK, ORANGE, 0.5, 4.6)
dc_dot(xr, yr, [P1_DC])
arrow(xr, yr, P1_DC[0], P1_DC[1], -36, -26, 8)
thresholds(yr, P1_THRESH, 66, 337, 1.3)
px_text(305, 117, P1_THRESH_TEXT[0], 9, xanchor="left", color="#333")
px_text(305, 145, P1_THRESH_TEXT[1], 9, xanchor="left", color="#333")
legend_row(63)
px_text(182, 74, "Project 1", 19)
px_text(23, 162, "bPK score", 10, angle=-90)
px_text(182, 296, "Series", 12)

p1_ts = [("Series 3", (403, 98, 533, 263), P1_S3_POINTS, P1_S3_LINE, True),
         ("Series 4", (561, 98, 692, 263), P1_S4_POINTS, P1_S4_LINE, False),
         ("Series 6", (723, 98, 853, 263), P1_S6_POINTS, P1_S6_LINE, False),
         ("Series 8", (881, 98, 1011, 263), P1_S8_POINTS, P1_S8_LINE, False)]
for name, box, pts, line, lab in p1_ts:
    xr, yr = new_axes(box, [0, 2580], [0.00176, 0.02405], x_ticks(lab), y_ticks(lab))
    ts(xr, yr, pts, line)
    thresholds(yr, TS_THRESH, box[0], box[2], 1.8)
    px_text((box[0] + box[2]) / 2 + 2, 84, name, 11.5)
    if name == "Series 3":
        dc_dot(xr, yr, [P1_S3_DC], 12)
        arrow(xr, yr, P1_S3_DC[0], P1_S3_DC[1], -37, -26, 7)
px_text(469, 288, "Number of compounds in project", 9.5)
px_text(358, 181, "bPK score", 9.5, angle=-90)

# ---------------- Project 2 ----------------
xr, yr = new_axes((68, 357, 300, 507), [0.45, 3.5], [0.0001, 0.0221],
                  cat_ticks(P2_SERIES), y_ticks(size=9.5, minor=0.0025), frame="#6a6a6a")
boxen(xr, yr, P2_SERIES, P2_LEVELS, P2_MEDIAN, [0.82, 0.42])
strip(xr, yr, P2_NONE, BLUE, 0.3, 4.6)
strip(xr, yr, P2_PK, ORANGE, 0.3, 4.6)
dc_dot(xr, yr, [P2_DC])
arrow(xr, yr, P2_DC[0], P2_DC[1], -36, -26, 7)
thresholds(yr, P2_THRESH, 68, 302, 1.3)
px_text(302, 383, P2_THRESH_TEXT[0], 9, xanchor="left", color="#333")
px_text(302, 411, P2_THRESH_TEXT[1], 9, xanchor="left", color="#333")
legend_row(336)
px_text(182, 339, "Project 2", 19)
px_text(26, 422, "bPK score", 10, angle=-90)
px_text(182, 535, "Series", 12)

p2_ts = [("Series 1", (429, 364, 583, 514), [0, 2300], P2_S1_POINTS, P2_S1_LINE, True),
         ("Series 2", (630, 366, 784, 516), [0, 2380], P2_S2_POINTS, P2_S2_LINE, False),
         ("Series 3", (831, 366, 984, 516), [0, 2380], P2_S3_POINTS, P2_S3_LINE, False)]
for name, box, xrange_, pts, line, lab in p2_ts:
    if lab:
        xk, yk = x_ticks(True, 1000, 500), y_ticks(True, 0.005, 0.0025)
    else:
        xk, yk = x_ticks(False, 500), y_ticks(False, 0.0025)
    xr, yr = new_axes(box, xrange_, [0.0025, 0.0247], xk, yk)
    ts(xr, yr, pts, line)
    thresholds(yr, TS_THRESH, box[0], box[2], 1.5)
    px_text((box[0] + box[2]) / 2, box[1] - 16, name, 11.5)
    if name == "Series 1":
        dc_dot(xr, yr, [P2_S1_DC], 11)
        arrow(xr, yr, P2_S1_DC[0], P2_S1_DC[1], -36, -25, 7)
px_text(505, 540, "Number of compounds in project", 9.5)
px_text(383, 440, "bPK score", 9.5, angle=-90)

# ---------------- Project 3 ----------------
xr, yr = new_axes((63, 592, 303, 746), [0.47, 6.45], [0.0013, 0.0252],
                  cat_ticks(P3_SERIES, 12), y_ticks(size=9.5), frame="#6a6a6a")
boxen(xr, yr, P3_SERIES, P3_LEVELS, P3_MEDIAN, [0.8, 0.4])
strip(xr, yr, P3_NONE, BLUE, 0.35, 4.6)
strip(xr, yr, P3_PK, ORANGE, 0.35, 4.6)
dc_dot(xr, yr, P3_DC)
arrow(xr, yr, P3_DC[0][0], P3_DC[0][1], -35, -33, 8)
arrow(xr, yr, P3_DC[1][0], P3_DC[1][1], -42, -31, 10)
thresholds(yr, P3_THRESH, 63, 337, 1.3)
px_text(302, 619, P3_THRESH_TEXT[0], 9, xanchor="left", color="#333")
px_text(302, 651, P3_THRESH_TEXT[1], 9, xanchor="left", color="#333")
legend_row(566)
px_text(182, 571, "Project 3", 19)
px_text(23, 643, "bPK score", 10, angle=-90)
px_text(182, 772, "Series", 11.5)

p3_ts = [("Series 2", (428, 593, 545, 748), [0, 3520], P3_S2_POINTS, P3_S2_LINE, True),
         ("Series 3", (573, 593, 691, 748), [0, 3600], P3_S3_POINTS, P3_S3_LINE, False),
         ("Series 4", (724, 592, 841, 746), [0, 3600], P3_S4_POINTS, P3_S4_LINE, False),
         ("Series 5", (878, 592, 995, 746), [0, 3610], P3_S5_POINTS, P3_S5_LINE, False)]
for name, box, xrange_, pts, line, lab in p3_ts:
    xr, yr = new_axes(box, xrange_, [0.00075, 0.02515], x_ticks(lab), y_ticks(lab))
    ts(xr, yr, pts, line)
    thresholds(yr, TS_THRESH, box[0], box[2], 1.5)
    px_text((box[0] + box[2]) / 2, 577, name, 11.5)
    if name == "Series 3":
        dc_dot(xr, yr, [P3_S3_DC], 11)
        arrow(xr, yr, P3_S3_DC[0], P3_S3_DC[1], -36, -28, 7)
    if name == "Series 5":
        dc_dot(xr, yr, [P3_S5_DC], 11)
        arrow(xr, yr, P3_S5_DC[0], P3_S5_DC[1], -37, -31, 8)
px_text(480, 772, "Number of compounds in project", 9.5)
px_text(383, 647, "bPK score", 9.5, angle=-90)

layout["shapes"] = shapes
layout["annotations"] = annotations
fig = go.Figure(data=traces, layout=layout)
fig.write_html("out.html")
